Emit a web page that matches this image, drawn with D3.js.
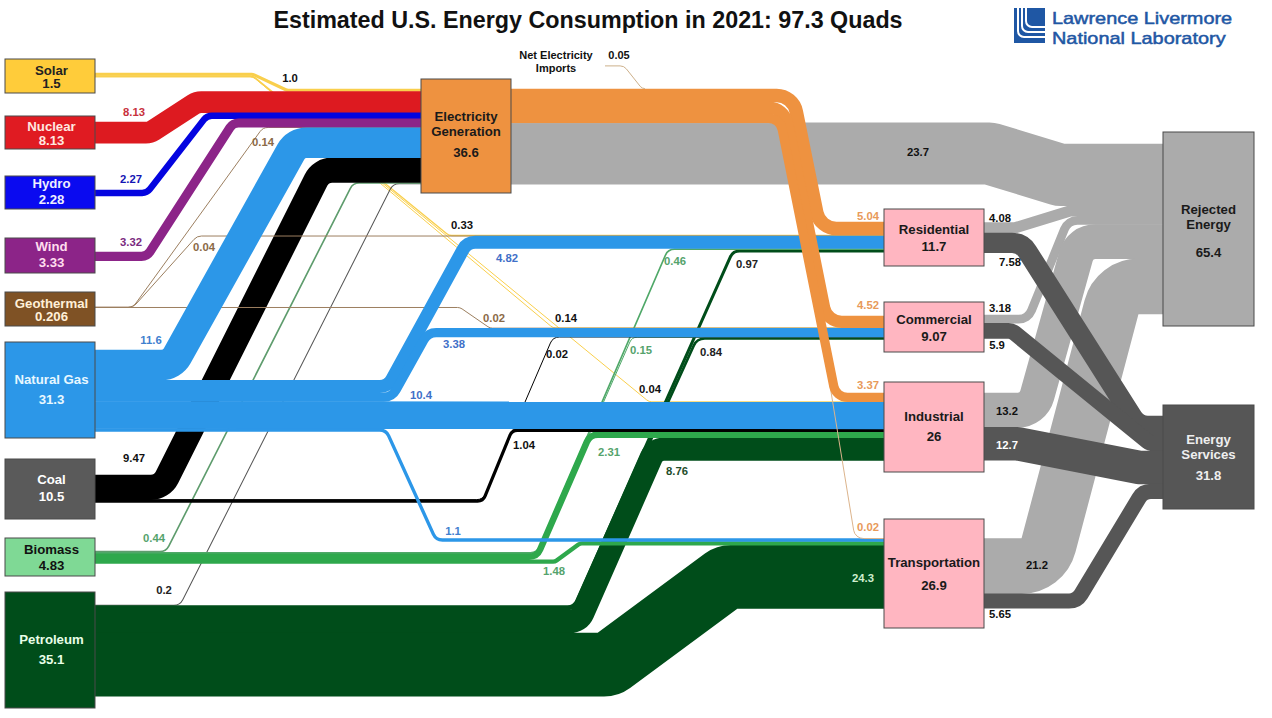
<!DOCTYPE html>
<html>
<head>
<meta charset="utf-8">
<script src="https://cdn.jsdelivr.net/npm/d3@7"></script>
<style>
  html, body { margin: 0; background: #fff; }
  text { font-family: "Liberation Sans", Arial, sans-serif; }
</style>
</head>
<body>
<div id="chart"></div>
<script>
var svgWidth = 1272;
var svgHeight = 718;

// Data (quads)
var nodeNames = ["Electricity", "Solar", "Nuclear", "Hydro", "Wind", "Geothermal", "Natural Gas", "Coal", "Biomass", "Petroleum",
  "Imports", "Residential", "Commercial", "Industrial", "Transportation", "Rejected", "Services"];
var nodeLines = [["Electricity", "Generation"], ["Solar"], ["Nuclear"], ["Hydro"], ["Wind"], ["Geothermal"], ["Natural Gas"], ["Coal"], ["Biomass"], ["Petroleum"],
  [], ["Residential"], ["Commercial"], ["Industrial"], ["Transportation"], ["Rejected", "Energy"], ["Energy", "Services"]];
var nodeTotals = ["36.6", "1.5", "8.13", "2.28", "3.33", "0.206", "31.3", "10.5", "4.83", "35.1",
  "", "11.7", "9.07", "26", "26.9", "65.4", "31.8"];

var flowFrom = ["Solar", "Solar", "Solar", "Solar", "Nuclear", "Hydro", "Wind", "Geothermal", "Geothermal", "Geothermal",
  "Natural Gas", "Natural Gas", "Natural Gas", "Natural Gas", "Natural Gas", "Coal", "Coal", "Coal",
  "Biomass", "Biomass", "Biomass", "Biomass", "Biomass", "Petroleum", "Petroleum", "Petroleum", "Petroleum", "Petroleum",
  "Electricity", "Electricity", "Electricity", "Electricity", "Electricity",
  "Residential", "Residential", "Commercial", "Commercial", "Industrial", "Industrial", "Transportation", "Transportation"];
var flowTo = ["Electricity", "Residential", "Commercial", "Industrial", "Electricity", "Electricity", "Electricity", "Electricity", "Residential", "Commercial",
  "Electricity", "Residential", "Commercial", "Industrial", "Transportation", "Electricity", "Commercial", "Industrial",
  "Electricity", "Residential", "Commercial", "Industrial", "Transportation", "Electricity", "Residential", "Commercial", "Industrial", "Transportation",
  "Residential", "Commercial", "Industrial", "Transportation", "Rejected",
  "Rejected", "Services", "Rejected", "Services", "Rejected", "Services", "Rejected", "Services"];
var flowValues = [1.0, 0.33, 0.14, 0.04, 8.13, 2.27, 3.32, 0.14, 0.04, 0.02,
  11.6, 4.82, 3.38, 10.4, 1.1, 9.47, 0.02, 1.04,
  0.44, 0.46, 0.15, 2.31, 1.48, 0.2, 0.97, 0.84, 8.76, 24.3,
  5.04, 4.52, 3.37, 0.02, 23.7,
  4.08, 7.58, 3.18, 5.9, 13.2, 12.7, 21.2, 5.65];
var flowLabels = ["1.0", "0.33", "0.14", "0.04", "8.13", "2.27", "3.32", "0.14", "0.04", "0.02",
  "11.6", "4.82", "3.38", "10.4", "1.1", "9.47", "0.02", "1.04",
  "0.44", "0.46", "0.15", "2.31", "1.48", "0.2", "0.97", "0.84", "8.76", "24.3",
  "5.04", "4.52", "3.37", "0.02", "23.7",
  "4.08", "7.58", "3.18", "5.9", "13.2", "12.7", "21.2", "5.65"];
var importValue = 0.05;

// Layout, kept apart from the values: box, top of outgoing stack, top of incoming stack, text lines
var nodeBox = {
  "Electricity": { x: 421, y: 79, w: 90, h: 114, out: 89, in: 89, ty: [121, 136, 157], fill: "#ee9240", ink: "#1a1a1a" },
  "Solar": { x: 5, y: 59, w: 90, h: 34, out: 73, ty: [75, 88], fill: "#ffcc3a", ink: "#222" },
  "Nuclear": { x: 5, y: 116, w: 90, h: 33, out: 122, ty: [131, 145], fill: "#e01b22", ink: "#ffe8e0" },
  "Hydro": { x: 5, y: 176, w: 90, h: 33, out: 190, ty: [188, 204], fill: "#0a0af0", ink: "#eef" },
  "Wind": { x: 5, y: 238, w: 90, h: 35, out: 252, ty: [251, 267], fill: "#8c2488", ink: "#fde" },
  "Geothermal": { x: 5, y: 292, w: 90, h: 34, out: 307, ty: [308, 321], fill: "#7f5225", ink: "#fff0d8" },
  "Natural Gas": { x: 5, y: 342, w: 90, h: 96, out: 350, ty: [384, 404], fill: "#2c97e8", ink: "#e8f8ff" },
  "Coal": { x: 5, y: 459, w: 90, h: 60, out: 475, ty: [484, 501], fill: "#5a5a5a", ink: "#fff" },
  "Biomass": { x: 5, y: 538, w: 90, h: 38, out: 551, ty: [554, 570], fill: "#7fd995", ink: "#111" },
  "Petroleum": { x: 5, y: 592, w: 90, h: 116, out: 605, ty: [644, 664], fill: "#004d1a", ink: "#e8ffe8" },
  "Imports": { x: 520, y: 66, w: 85, h: 0, out: 65.9, hidden: true },
  "Residential": { x: 884, y: 209, w: 100, h: 57, out: 222.5, in: 222, ty: [234, 251], fill: "#ffb6c1", ink: "#1a1a1a" },
  "Commercial": { x: 884, y: 302, w: 100, h: 50, out: 315, in: 316, ty: [324, 341], fill: "#ffb6c1", ink: "#1a1a1a" },
  "Industrial": { x: 884, y: 382, w: 100, h: 90, out: 393, in: 393, ty: [421, 441], fill: "#ffb6c1", ink: "#1a1a1a" },
  "Transportation": { x: 884, y: 519, w: 100, h: 109, out: 538.5, in: 538.5, ty: [567, 590], fill: "#ffb6c1", ink: "#1a1a1a" },
  "Rejected": { x: 1163, y: 132, w: 91, h: 194, in: 144, ty: [214, 229, 257], fill: "#ababab", ink: "#1a1a1a" },
  "Services": { x: 1163, y: 405, w: 91, h: 104, in: 416, ty: [444, 459, 480], fill: "#565656", ink: "#eee" }
};

// x where each flow leaves its start level, x where it reaches its end level, corner radius
var flowBends = [
  [253, 287, 6], [253, 449, 8], [253, 553, 8], [253, 649, 8], [150, 197, 14], [147, 207, 10], [147, 233, 10], [133, 263, 10], [133, 197, 10], [460, 490, 8],
  [172, 296, 18], [388, 467, 14], [392, 428, 14], [500, 530, 10], [386, 436, 10], [162, 321, 18], [483, 553, 10], [483, 512, 8],
  [166, 353, 10], [537, 668, 10], [537, 632, 8], [537, 590, 12], [555, 580, 6], [180, 393, 10], [574, 733, 10], [574, 697, 12], [579, 655, 14], [608, 727, 12],
  [793, 820, 20], [784, 827, 18], [780, 836, 14], [787, 855, 10], [990, 1060, 4],
  [1015, 1070, 4], [1022, 1138, 18], [1028, 1068, 14], [1012, 1150, 10], [1033, 1080, 20], [1018, 1140, 6], [1043, 1117, 28], [1077, 1143, 14]
];

var flowColors = {
  "Solar": "#f9cf4c", "Nuclear": "#dd1a20", "Hydro": "#0404e0", "Wind": "#8c2488", "Geothermal": "#9c7f60",
  "Natural Gas": "#2c97e8", "Coal": "#000000", "Biomass": "#2ea84c", "Petroleum": "#004d1a", "Electricity": "#ee9240"
};
var thinColors = { 0.44: "#5e9c6d", 0.2: "#555", 0.46: "#4fa868", 0.15: "#4fa868" };

// paint order: what sits under what
var layerOf = ["Solar", "Petroleum", "Biomass", "Coal", "Geothermal", "Nuclear", "Hydro", "Wind", "Natural Gas", "Electricity"];

var labelAt = [
  [290, 78], [462, 225], [566, 318], [650, 389], [134, 112], [131, 179], [131, 242], [263, 142], [204, 247], [494, 318],
  [151, 340], [507, 258], [454, 344], [421, 395], [453, 531], [134, 458], [557, 354], [524, 445],
  [154, 538], [675, 261], [641, 350], [609, 452], [554, 571], [164, 590], [747, 264], [711, 352], [677, 471], [863, 578],
  [868, 216], [868, 305], [868, 385], [868, 527], [918, 152],
  [1000, 218], [1010, 262], [1000, 308], [997, 345], [1007, 411], [1007, 445], [1037, 565], [1000, 614]
];
var labelColors = ["#111", "#111", "#111", "#111", "#c8303c", "#1414b4", "#7a2a80", "#8b6a47", "#8b6a47", "#8b6a47",
  "#3f80cf", "#3f70c8", "#3f70c8", "#3f70c8", "#3f80cf", "#111", "#111", "#111",
  "#55a36c", "#55a36c", "#55a36c", "#55a36c", "#55a36c", "#222", "#222", "#222", "#1f4d2c", "#cfeecf",
  "#e89a5a", "#e89a5a", "#e89a5a", "#e89a5a", "#111",
  "#111", "#111", "#111", "#111", "#111", "#fff", "#111", "#111"];

var widthScale = d3.scaleLinear().domain([0, 35.1]).range([0, 91.3]);

var svg = d3.select("#chart")
  .append("svg")
  .attr("width", svgWidth)
  .attr("height", svgHeight);

// Build flow rows and stack them inside their nodes
var flows = flowValues.map(function(v, i) {
  return { i: i, from: flowFrom[i], to: flowTo[i], value: v, label: flowLabels[i], bend: flowBends[i] };
});

var outTop = {}, inTop = {};
nodeNames.forEach(function(n) {
  outTop[n] = nodeBox[n].out;
  inTop[n] = nodeBox[n].in;
});
flows.forEach(function(f) {
  var h = widthScale(f.value);
  f.y0 = outTop[f.from] + h / 2;
  outTop[f.from] += h;
});
nodeNames.forEach(function(src) {
  flows.filter(function(f) { return f.from === src; }).forEach(function(f) {
    var h = widthScale(f.value);
    f.y1 = inTop[f.to] + h / 2;
    inTop[f.to] += h;
  });
});

function flowPath(f) {
  var a = nodeBox[f.from], b = nodeBox[f.to];
  var p = d3.path();
  p.moveTo(a.x + a.w, f.y0);
  if (Math.abs(f.y0 - f.y1) < 1) {
    p.lineTo(b.x, f.y1);
  } else {
    p.arcTo(f.bend[0], f.y0, f.bend[1], f.y1, f.bend[2]);
    p.arcTo(f.bend[1], f.y1, b.x, f.y1, f.bend[2]);
    p.lineTo(b.x, f.y1);
  }
  return p.toString();
}

function layer(f) {
  if (f.to === "Rejected") return -2;
  if (f.to === "Services") return -1;
  if (f.from === "Electricity" && f.value < 0.1) return 8.5;
  return layerOf.indexOf(f.from);
}

function flowColor(f) {
  if (f.to === "Services") return "#565656";
  if (f.to === "Rejected") return "#ababab";
  if (f.value < 0.5 && thinColors[f.value] && f.from !== "Geothermal" && f.from !== "Solar") return thinColors[f.value];
  if (f.from === "Electricity" && f.value < 0.1) return "#dcb48c";
  return flowColors[f.from];
}

var drawOrder = flows.slice().sort(function(a, b) { return layer(a) - layer(b) || a.i - b.i; });

// a hair wider than the stack so neighbouring bands close up without a seam
svg.append("g").selectAll("path")
  .data(drawOrder)
  .enter()
  .append("path")
  .attr("d", flowPath)
  .attr("fill", "none")
  .attr("stroke", flowColor)
  .attr("stroke-width", function(d) { return Math.max(1, widthScale(d.value) + 0.5); });

// net imports joins the top of the electricity band
var importPath = d3.path();
importPath.moveTo(605, 65.9);
importPath.arcTo(624, 65.9, 642, 88.6, 8);
importPath.arcTo(642, 88.6, 652, 88.6, 6);
svg.append("path")
  .attr("d", importPath.toString())
  .attr("fill", "none")
  .attr("stroke", "#cdb08a")
  .attr("stroke-width", Math.max(1, widthScale(importValue)));

// Node boxes
var shown = nodeNames.filter(function(n) { return !nodeBox[n].hidden; });
svg.append("g").selectAll("rect")
  .data(shown)
  .enter()
  .append("rect")
  .attr("x", function(d) { return nodeBox[d].x; })
  .attr("y", function(d) { return nodeBox[d].y; })
  .attr("width", function(d) { return nodeBox[d].w; })
  .attr("height", function(d) { return nodeBox[d].h; })
  .attr("fill", function(d) { return nodeBox[d].fill; })
  .attr("stroke", "#4a4a4a")
  .attr("stroke-width", 1);

shown.forEach(function(n) {
  var box = nodeBox[n];
  var lines = nodeLines[nodeNames.indexOf(n)].concat(nodeTotals[nodeNames.indexOf(n)]);
  lines.forEach(function(line, k) {
    svg.append("text")
      .attr("x", box.x + box.w / 2 + (box.x < 10 ? 1.5 : 0))
      .attr("y", box.ty[k])
      .attr("text-anchor", "middle")
      .attr("font-size", 13.2)
      .attr("font-weight", "bold")
      .attr("fill", box.ink)
      .text(line);
  });
});

// Flow labels
svg.append("g").selectAll("text")
  .data(flows)
  .enter()
  .append("text")
  .attr("x", function(d) { return labelAt[d.i][0]; })
  .attr("y", function(d) { return labelAt[d.i][1] + 4; })
  .attr("text-anchor", "middle")
  .attr("font-size", 11.3)
  .attr("font-weight", "bold")
  .attr("fill", function(d) { return labelColors[d.i]; })
  .text(function(d) { return d.label; });

svg.append("text").attr("x", 556).attr("y", 59).attr("text-anchor", "middle")
  .attr("font-size", 11).attr("font-weight", "bold").attr("fill", "#111").text("Net Electricity");
svg.append("text").attr("x", 556).attr("y", 72).attr("text-anchor", "middle")
  .attr("font-size", 11).attr("font-weight", "bold").attr("fill", "#111").text("Imports");
svg.append("text").attr("x", 619).attr("y", 59).attr("text-anchor", "middle")
  .attr("font-size", 11).attr("font-weight", "bold").attr("fill", "#111").text(importValue.toFixed(2));

// Title
svg.append("text")
  .attr("x", 588)
  .attr("y", 28)
  .attr("text-anchor", "middle")
  .attr("font-size", 23.3)
  .attr("font-weight", "bold")
  .attr("fill", "#111")
  .text("Estimated U.S. Energy Consumption in 2021: 97.3 Quads");

// Logo
var logo = svg.append("g");
logo.append("rect").attr("x", 1014).attr("y", 8).attr("width", 31).attr("height", 35).attr("fill", "#1f57a4");
[[1018, 32], [1022, 27], [1026, 22]].forEach(function(s) {
  var p = d3.path();
  p.moveTo(s[0], 8);
  p.arcTo(s[0], s[1] + 5, 1045, s[1] + 5, 6);
  p.lineTo(1045, s[1] + 5);
  logo.append("path").attr("d", p.toString()).attr("fill", "none").attr("stroke", "#fff").attr("stroke-width", 2);
});
["Lawrence Livermore", "National Laboratory"].forEach(function(t, k) {
  logo.append("text")
    .attr("transform", "translate(1052," + (23.5 + k * 20) + ") scale(1.17,1)")
    .attr("font-size", 17)
    .attr("fill", "#1f57a4")
    .attr("stroke", "#1f57a4")
    .attr("stroke-width", 0.5)
    .text(t);
});
</script>
</body>
</html>
